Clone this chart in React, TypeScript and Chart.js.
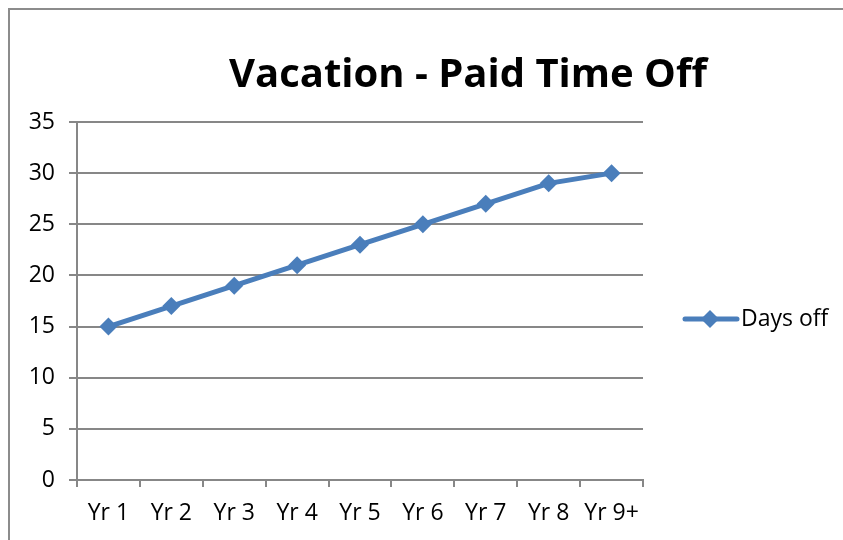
import React, { useEffect, useRef } from "react";
import { Chart, registerables } from "chart.js";

Chart.register(...registerables);

const categories = ["Yr 1", "Yr 2", "Yr 3", "Yr 4", "Yr 5", "Yr 6", "Yr 7", "Yr 8", "Yr 9+"];
const daysOff = [15, 17, 19, 21, 23, 25, 27, 29, 30];
const seriesName = "Days off";
const chartTitle = "Vacation - Paid Time Off";

const FONT = "'Open Sans', 'DejaVu Sans', sans-serif";
const LINE_COLOR = "#4A7EBB";
const GRID_COLOR = "#878787";

const titleLegendPlugin = {
  id: "titleLegend",
  afterDraw(chart: any) {
    const ctx = chart.ctx as CanvasRenderingContext2D;
    ctx.save();
    // title
    ctx.fillStyle = "#000";
    ctx.font = `bold 40px ${FONT}`;
    ctx.textAlign = "center";
    ctx.textBaseline = "middle";
    ctx.fillText(chartTitle, 458, 66);
    // legend
    const ds = chart.data.datasets[0];
    const ly = 309;
    ctx.strokeStyle = ds.borderColor;
    ctx.lineWidth = 5;
    ctx.lineCap = "round";
    ctx.beginPath();
    ctx.moveTo(675, ly);
    ctx.lineTo(727, ly);
    ctx.stroke();
    ctx.fillStyle = ds.backgroundColor;
    ctx.beginPath();
    ctx.moveTo(700, ly - 9);
    ctx.lineTo(709, ly);
    ctx.lineTo(700, ly + 9);
    ctx.lineTo(691, ly);
    ctx.closePath();
    ctx.fill();
    ctx.fillStyle = "#000";
    ctx.font = `23px ${FONT}`;
    ctx.textAlign = "left";
    ctx.fillText(ds.label, 731, ly);
    ctx.restore();
  },
};

export default function App() {
  const canvasRef = useRef<HTMLCanvasElement | null>(null);

  useEffect(() => {
    document.documentElement.style.overflow = "hidden";
    document.body.style.overflow = "hidden";
    if (!canvasRef.current) return;
    const chart = new Chart(canvasRef.current, {
      type: "line",
      data: {
        labels: categories,
        datasets: [
          {
            label: seriesName,
            data: daysOff,
            borderColor: LINE_COLOR,
            backgroundColor: LINE_COLOR,
            borderWidth: 5,
            pointStyle: "rectRot",
            pointRadius: 9,
            pointHoverRadius: 9,
            pointBackgroundColor: LINE_COLOR,
            pointBorderWidth: 0,
            tension: 0,
          },
        ],
      },
      options: {
        animation: false,
        responsive: false,
        layout: { padding: { top: 112, right: 200, left: 0, bottom: 0 } },
        plugins: {
          legend: { display: false },
          title: { display: false },
          tooltip: { enabled: false },
        },
        scales: {
          x: {
            type: "category",
            offset: true,
            grid: {
              offset: true,
              drawOnChartArea: false,
              drawTicks: true,
              tickLength: 7,
              color: GRID_COLOR,
              lineWidth: 2,
            },
            border: { display: true, color: GRID_COLOR, width: 2 },
            ticks: {
              color: "#000",
              font: { family: FONT, size: 23 },
              padding: 13,
              maxRotation: 0,
            },
            afterFit(scale: any) {
              scale.height = 60;
            },
          },
          y: {
            min: 0,
            max: 35,
            ticks: {
              stepSize: 5,
              color: "#000",
              font: { family: FONT, size: 23 },
              padding: 14,
            },
            grid: {
              color: GRID_COLOR,
              lineWidth: 2,
              tickLength: 8,
              drawTicks: true,
            },
            border: { display: true, color: GRID_COLOR, width: 2 },
            afterFit(scale: any) {
              scale.width = 67;
            },
          },
        },
      },
      plugins: [titleLegendPlugin],
    });
    return () => chart.destroy();
  }, []);

  return (
    <div
      style={{
        position: "fixed",
        left: 8,
        top: 8,
        width: 900,
        height: 600,
        borderTop: "2px solid #8c8c8c",
        borderLeft: "2px solid #8c8c8c",
        overflow: "hidden",
        background: "#fff",
      }}
    >
      <canvas ref={canvasRef} width={833} height={530} style={{ display: "block" }} />
    </div>
  );
}
